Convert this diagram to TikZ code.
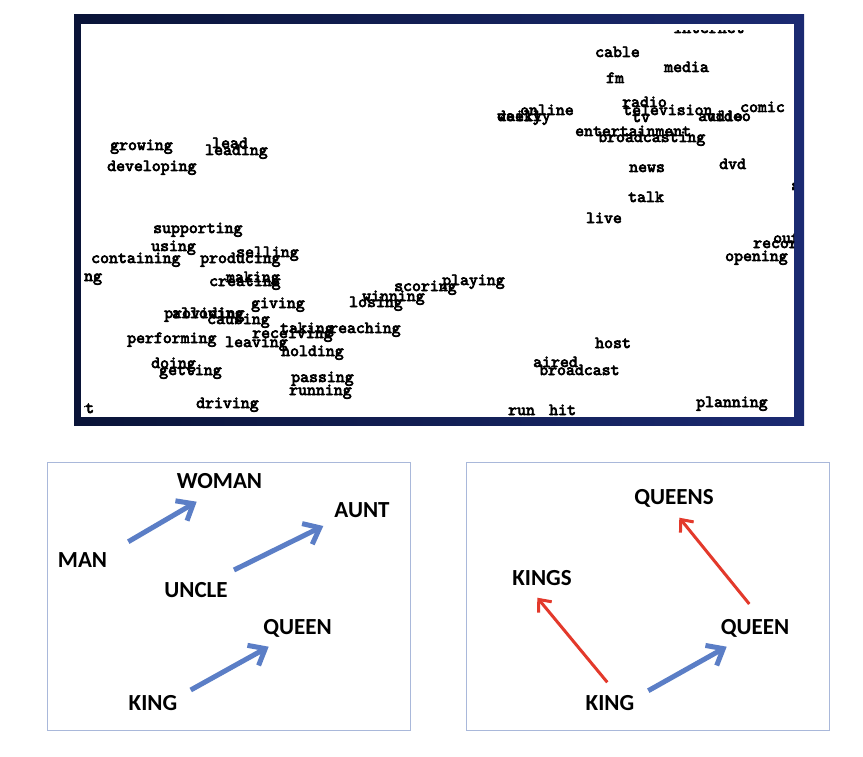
\documentclass[tikz,border=0pt]{standalone}
\usepackage{fontspec}
\newfontfamily\labfont{Carlito}
\newfontfamily\wordfont{lmmono10-regular}[Extension=.otf, FakeBold=4]
\usetikzlibrary{arrows.meta}
\definecolor{navyA}{HTML}{0A1438}
\definecolor{navyB}{HTML}{1B2A72}
\definecolor{arrblue}{HTML}{5B7EC6}
\definecolor{arrred}{HTML}{E3392B}
\definecolor{boxline}{HTML}{A9B8DA}
\tikzset{
 wordlab/.style={anchor=base west, inner sep=0pt, font=\wordfont\fontsize{17}{17}\selectfont, text=black},
 biglab/.style={inner sep=0pt, text depth=0pt, font=\labfont\bfseries\fontsize{23}{23}\selectfont},
 bluearrow/.style={draw=arrblue, line width=5pt, -{Straight Barb[length=14pt,width=23pt]}},
 redarrow/.style={draw=arrred, line width=3pt, -{Straight Barb[length=10pt,width=17pt]}},
 panelbox/.style={draw=boxline, line width=1pt},
}
\begin{document}
\begin{tikzpicture}[x=1pt,y=-1pt]
\useasboundingbox (0,0) rectangle (863,757);
\fill[white] (0,0) rectangle (863,757);
% top panel
\shade[left color=navyA,right color=navyB] (74,15) rectangle (804,425);
\fill[white] (81,24) rectangle (794,417);
\begin{scope}
\clip (84,31) rectangle (794,417);
\foreach \t/\x/\y [count=\i] in {
 internet/673/33, cable/595/57, media/664/72, fm/606/83, radio/622/107,
 online/520/115, television/623/115, tv/632/122, audio/698/121, video/706/121,
 comic/740/112, daily/497/121, weekly/497/121, entertainment/575/136,
 broadcasting/598/142, news/629/172, dvd/719/169, show/791/190, talk/628/202,
 live/586/223, out/773/243, record/753/248, opening/725/261,
 growing/110/150, lead/212/148, leading/205/155, developing/107/171,
 supporting/153/233, using/151/251, containing/91/263, producing/200/263,
 selling/236/257, building/30.4/281, making/226/282, creating/209/286,
 playing/442/285, scoring/394/291, winning/362/301, losing/349/307,
 giving/251/308, allowing/172/318, providing/164/318, causing/207/324,
 taking/280/333, receiving/252/338, reaching/329/333, performing/127/343,
 leaving/225/347, holding/281/356, host/595/348, aired/533/367,
 broadcast/539/375, doing/151/368, getting/159/375, passing/291/382,
 running/289/395, driving/196/408, start/49.3/413, run/508/415, hit/549/415,
 planning/696/407}
 \node[wordlab] (w\i) at (\x,\y) {\t};
\end{scope}
% bottom left panel
\draw[panelbox] (47,462) rectangle (410.5,730.5);
\node[biglab] (woman) at (219.5,481) {WOMAN};
\node[biglab] (man) at (82.5,560.5) {MAN};
\node[biglab] (aunt) at (362,510) {AUNT};
\node[biglab] (uncle) at (196,589.5) {UNCLE};
\node[biglab] (queen) at (297.5,627) {QUEEN};
\node[biglab] (king) at (153,702.5) {KING};
\draw[bluearrow] ([shift={(45.8,-18.8)}]man.center) -- ([shift={(-22.8,20.7)}]woman.center);
\draw[bluearrow] ([shift={(38,-19.5)}]uncle.center) -- ([shift={(-38.7,16)}]aunt.center);
\draw[bluearrow] ([shift={(37.7,-12.5)}]king.center) -- ([shift={(-28.8,19.7)}]queen.center);
% bottom right panel
\draw[panelbox] (466,462) rectangle (829.3,730.5);
\node[biglab] (queens) at (674,497) {QUEENS};
\node[biglab] (kings) at (542,578) {KINGS};
\node[biglab] (queenb) at (755,627) {QUEEN};
\node[biglab] (kingb) at (610,702.5) {KING};
\draw[redarrow] ([shift={(-2.7,-20.2)}]kingb.center) -- ([shift={(-4.7,19.7)}]kings.center);
\draw[redarrow] ([shift={(-5.7,-23)}]queenb.center) -- ([shift={(5.3,20.7)}]queens.center);
\draw[bluearrow] ([shift={(38.3,-11.8)}]kingb.center) -- ([shift={(-28.3,19.7)}]queenb.center);
\end{tikzpicture}
\end{document}
